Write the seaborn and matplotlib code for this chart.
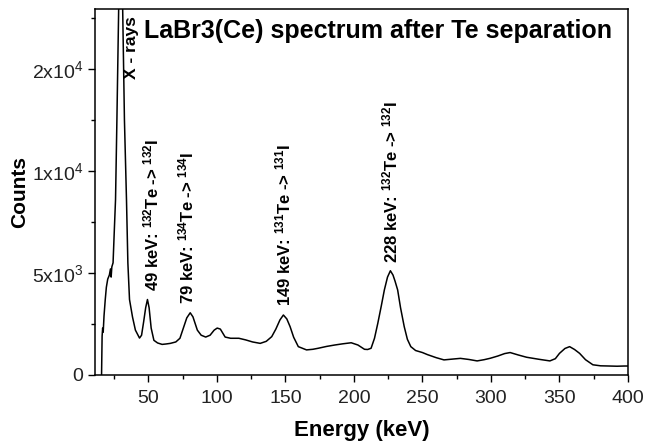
import numpy as np
import pandas as pd
import matplotlib
matplotlib.use("Agg")
import matplotlib.pyplot as plt
import seaborn as sns
from matplotlib.ticker import FixedLocator, MultipleLocator

# spectrum (keV, counts)
energy = [15.8, 16.2, 16.6, 17.0, 17.6, 18.5, 19.3, 20.3, 21.5, 22.3, 22.8, 23.3, 24.2,
          25.0, 26.0, 27.0, 28.3, 29.0, 29.8, 30.6, 31.2, 32.5, 34.0, 35.0, 36.2, 38.4,
          40.5, 43.5, 45.0, 46.5, 48.0, 49.3, 50.5, 52.0, 54.0, 56.7, 60.0, 62.8, 66.0,
          70.0, 73.0, 75.5, 78.0, 80.5, 82.5, 85.7, 88.5, 91.8, 95.0, 98.0, 100.2, 102.5,
          106.0, 110.0, 116.0, 121.0, 126.0, 131.6, 136.0, 140.0, 143.0, 146.0, 148.5,
          151.0, 153.4, 156.0, 159.4, 165.4, 170.0, 173.9, 180.0, 186.0, 192.0, 198.0,
          202.9, 207.7, 210.0, 212.5, 215.0, 217.4, 220.0, 222.2, 224.5, 226.6, 228.5,
          230.0, 231.9, 234.0, 236.7, 239.0, 241.5, 245.0, 250.0, 253.6, 260.0, 265.7,
          272.0, 277.7, 284.0, 289.9, 295.0, 299.5, 305.0, 310.0, 314.0, 320.0, 326.0,
          335.0, 343.0, 347.0, 350.0, 354.0, 357.4, 361.0, 364.7, 369.0, 374.4, 380.0,
          386.4, 392.0, 397.3, 400.0]
counts = [0, 1900, 2300, 2100, 2900, 3700, 4300, 4700, 4900, 5200, 4800, 5300, 5500,
          6900, 8600, 12500, 18000, 28000, 40000, 28000, 18000, 12500, 8580, 5500, 3700, 2840,
          2200, 1810, 1950, 2600, 3300, 3700, 3300, 2300, 1700, 1570, 1500, 1520, 1550,
          1620, 1800, 2300, 2800, 3050, 2850, 2200, 1950, 1860, 1950, 2200, 2300, 2250,
          1860, 1800, 1800, 1720, 1620, 1550, 1650, 1880, 2250, 2700, 2940,
          2750, 2370, 1850, 1390, 1230, 1260, 1310, 1400, 1470, 1530, 1580,
          1470, 1260, 1250, 1310, 1800, 2530, 3400, 4170, 4800, 5110, 4900,
          4600, 4170, 3300, 2370, 1750, 1390, 1200, 1100, 1000, 850, 740,
          780, 815, 760, 690, 750, 820, 930, 1050, 1100, 980, 870,
          770, 690, 800, 1060, 1300, 1390, 1250, 1060, 750, 500, 450,
          440, 430, 440, 440]

peak_labels = ["49 keV: $^{132}$Te -> $^{132}$I",
               "79 keV: $^{134}$Te -> $^{134}$I",
               "149 keV: $^{131}$Te -> $^{131}$I",
               "228 keV: $^{132}$Te -> $^{132}$I"]
peak_x = [52, 78, 148.5, 227]
peak_y = [4100, 3500, 3400, 5500]

ytick_vals = [0, 5000, 10000, 15000]
ytick_labels = ["0", "5x10$^3$", "1x10$^4$", "2x10$^4$"]

sns.set_style("ticks")
plt.rcParams["font.family"] = ["Liberation Sans", "DejaVu Sans"]
plt.rcParams["mathtext.default"] = "regular"
plt.rcParams["text.color"] = "black"

df = pd.DataFrame({"Energy": energy, "Counts": counts})

fig = plt.figure(figsize=(6.47, 4.42), dpi=100)
ax = fig.add_axes([0.1468, 0.1516, 0.8238, 0.8284])
sns.lineplot(data=df, x="Energy", y="Counts", color="black", linewidth=1.1, ax=ax)

ax.set_xlim(11, 400)
ax.set_ylim(0, 17950)
ax.xaxis.set_major_locator(FixedLocator([50, 100, 150, 200, 250, 300, 350, 400]))
ax.xaxis.set_minor_locator(MultipleLocator(25))
ax.yaxis.set_major_locator(FixedLocator(ytick_vals))
ax.set_yticklabels(ytick_labels)
ax.yaxis.set_minor_locator(MultipleLocator(2500))
ax.tick_params(which="major", direction="out", length=5, width=1, labelsize=14,
               colors="black", labelcolor="#222222")
ax.tick_params(axis="x", which="major", pad=6)
ax.tick_params(which="minor", direction="out", length=3, width=1, colors="black")
for s in ax.spines.values():
    s.set_color("black")
    s.set_linewidth(1.1)

ax.set_xlabel("Energy (keV)", fontsize=16, fontweight="bold", labelpad=9, color="black")
ax.set_ylabel("Counts", fontsize=15, fontweight="bold", labelpad=2, color="black")

ax.text(46.5, 17450, "LaBr3(Ce) spectrum after Te separation",
        fontsize=18, fontweight="bold", ha="left", va="top")
ax.text(38.0, 17600, "X - rays", rotation=90, fontsize=12.5, fontweight="bold",
        ha="center", va="top")
for lab, xx, yy in zip(peak_labels, peak_x, peak_y):
    ax.text(xx, yy, lab, rotation=90, fontsize=12, fontweight="bold", ha="center", va="bottom")

fig.savefig("out.png", dpi=100)
